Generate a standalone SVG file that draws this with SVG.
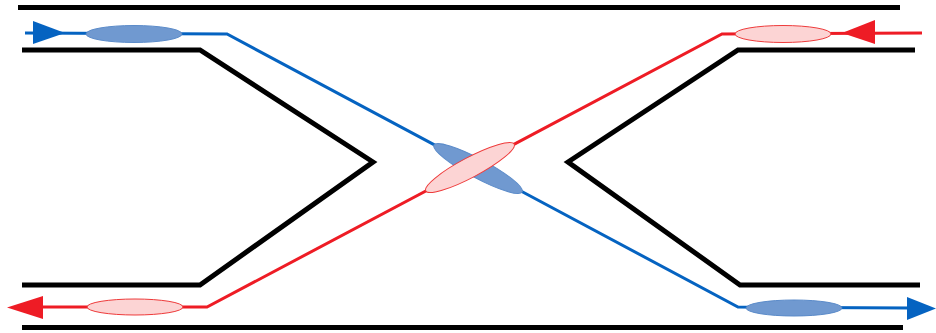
<svg xmlns="http://www.w3.org/2000/svg" width="936" height="333" viewBox="0 0 936 333">
<style>
.wall{fill:none;stroke:#000;stroke-width:5;stroke-linejoin:miter}
.bl{fill:none;stroke:#0563C1;stroke-width:3}
.rd{fill:none;stroke:#EE1C25;stroke-width:3}
.be{fill:#7099D0;stroke:#5B8BC9;stroke-width:1}
.re{fill:#FCD4D4;stroke:#EE3B3B;stroke-width:1}
.ba{fill:#0563C1}
.ra{fill:#EE1C25}
</style>
<rect width="936" height="333" fill="#fff"/>
<g id="walls">
<line class="wall" x1="18" y1="7.5" x2="900" y2="7.5"/>
<line class="wall" x1="22" y1="327.5" x2="903" y2="327.5"/>
<polyline class="wall" points="22,50 200,50 373,162 200,285 22,285"/>
<polyline class="wall" points="915,50 738,50 568,162 740,285 920,285"/>
</g>
<g id="connectors">
<polyline class="bl" points="25,33 227,34 738,307 910,308"/>
<polyline class="rd" points="922,33 722,34 207,307 40,307"/>
<polygon class="ba" points="33,21 65,33 33,44"/>
<polygon class="ba" points="907,297 936,308.5 907,320"/>
<polygon class="ra" points="875,20 842,33 875,44"/>
<polygon class="ra" points="43,296 7,307.5 43,319"/>
</g>
<g id="blue-left"><ellipse class="be" cx="134" cy="34" rx="48" ry="8.5"/></g>
<g id="blue-right"><ellipse class="be" cx="794" cy="308" rx="48" ry="8"/></g>
<g id="red-right"><ellipse class="re" cx="783" cy="34" rx="48" ry="8.5"/></g>
<g id="red-left"><ellipse class="re" cx="135" cy="307" rx="48" ry="8"/></g>
<g id="blue-center"><ellipse class="be" cx="478" cy="168.5" rx="50" ry="9.5" transform="rotate(28.1 478 168.5)"/></g>
<g id="red-center"><ellipse class="re" cx="470" cy="167.5" rx="50" ry="10" transform="rotate(-27.9 470 167.5)"/></g>
</svg>
